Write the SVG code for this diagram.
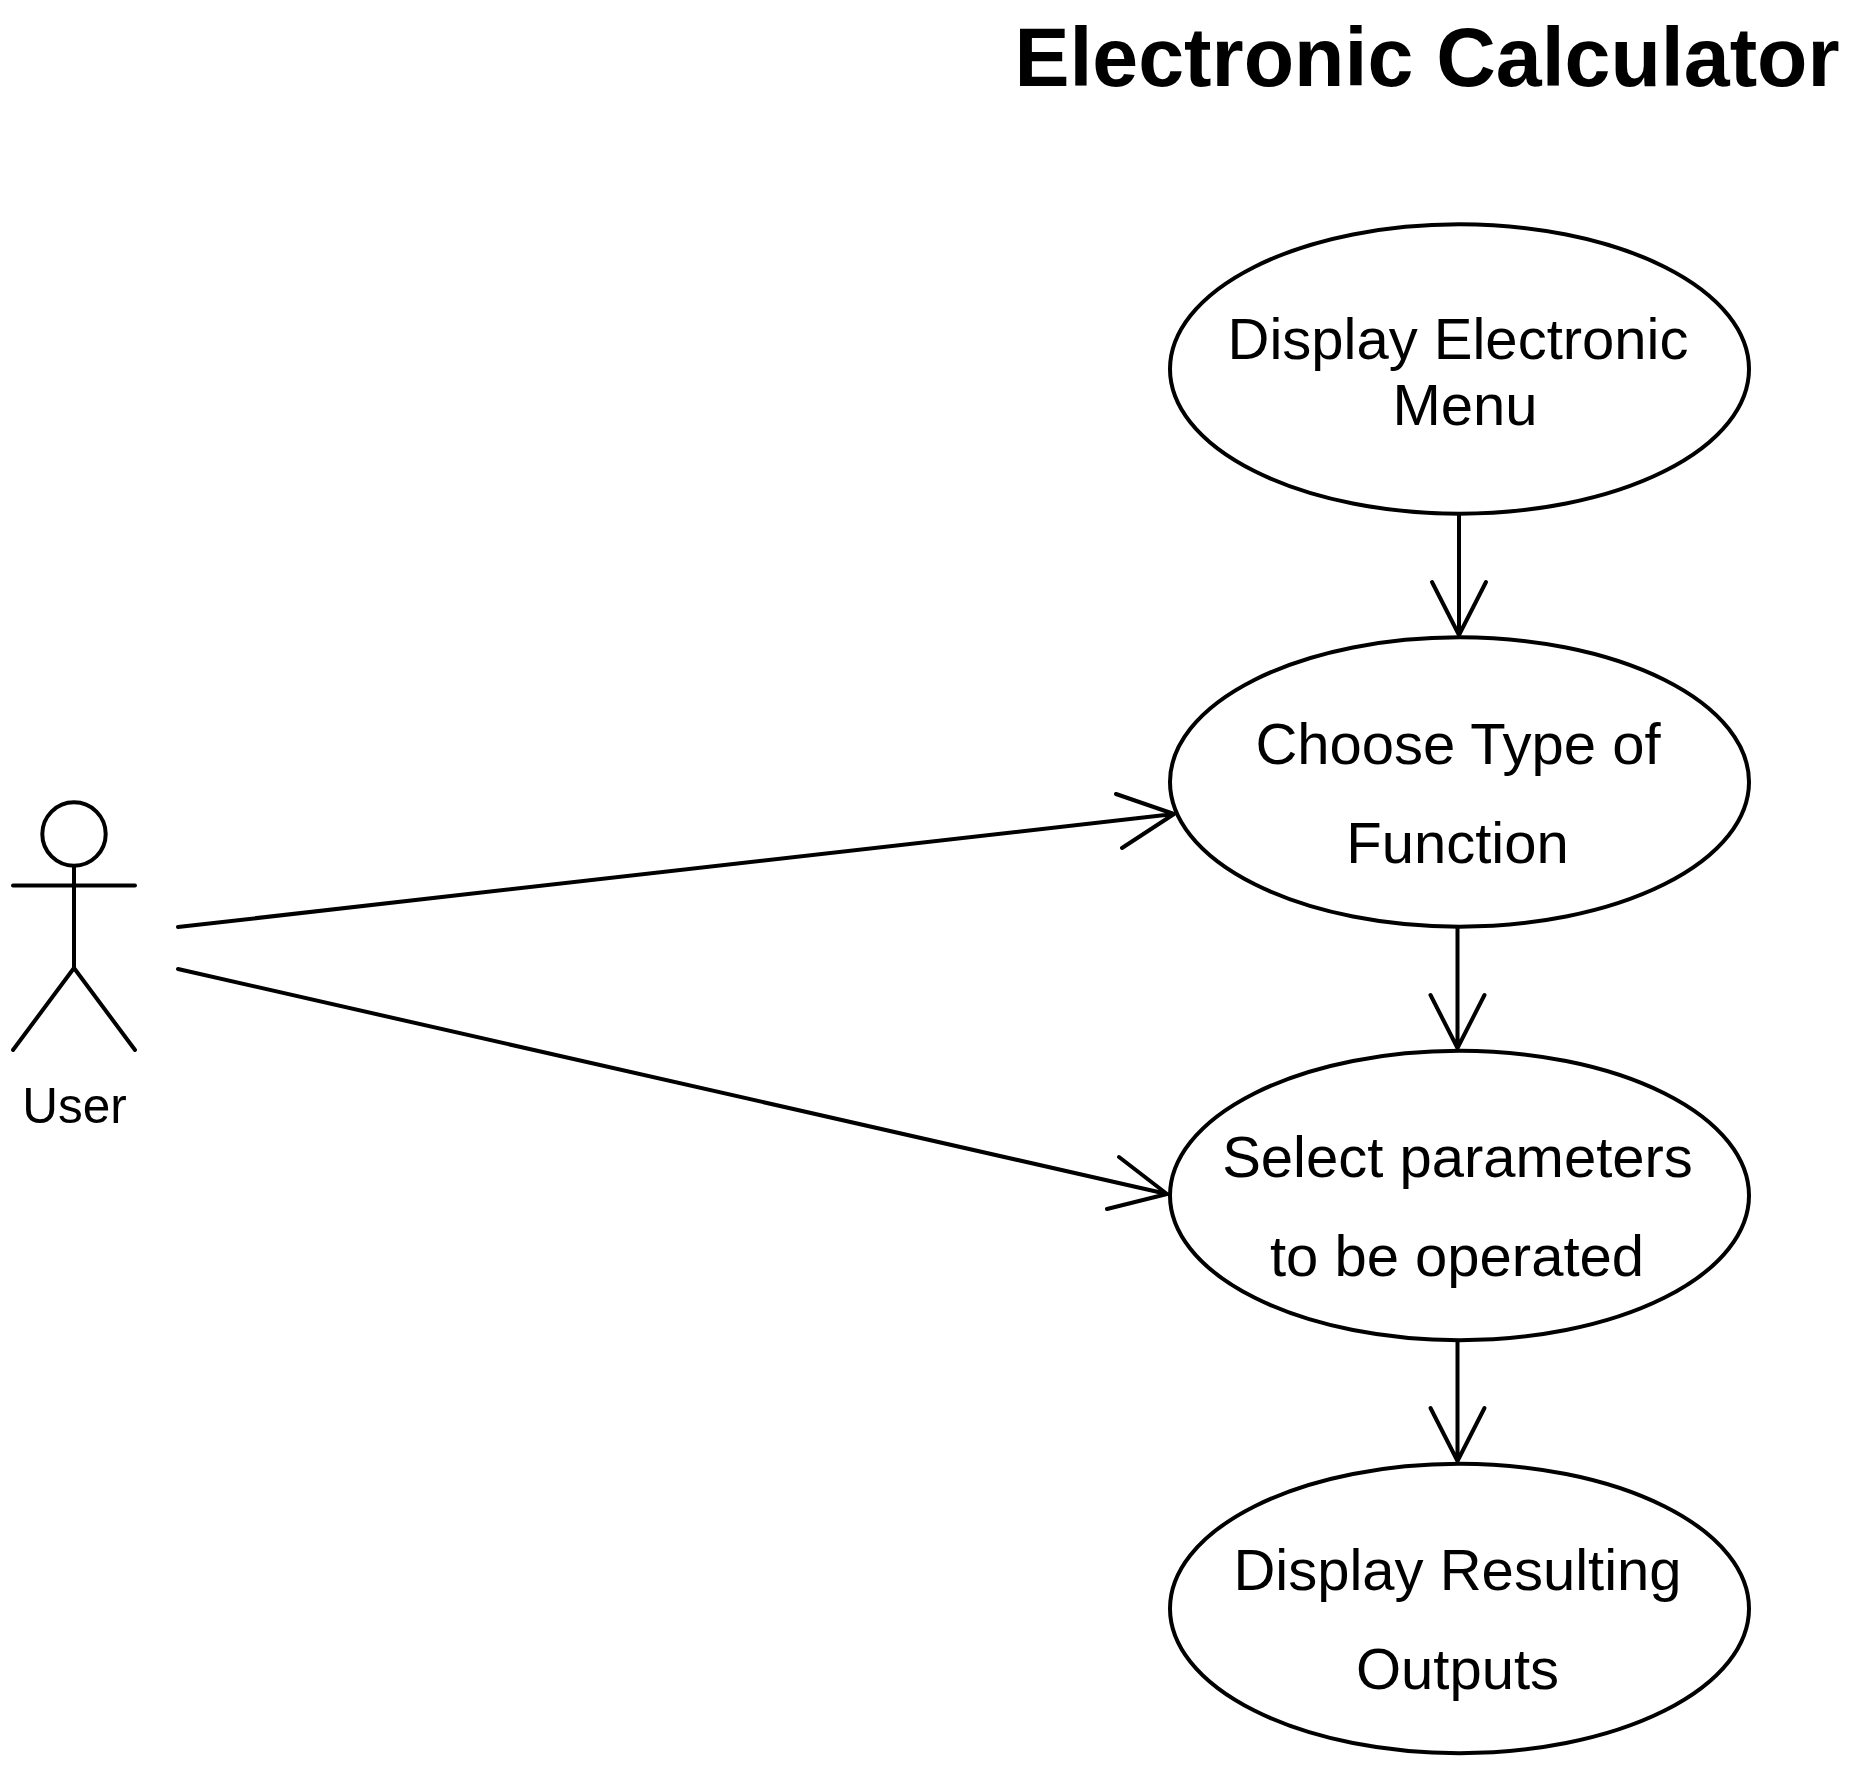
<svg xmlns="http://www.w3.org/2000/svg" width="1860" height="1768" viewBox="0 0 1860 1768">
<style>
.s{fill:none;stroke:#000;stroke-width:4;stroke-linecap:round;stroke-linejoin:round}
.e{fill:#fff;stroke:#000;stroke-width:4}
text{font-family:"Liberation Sans",Arial,sans-serif;fill:#000;text-anchor:middle}
.n{font-size:58px}
</style>
<rect width="1860" height="1768" fill="#fff"/>
<text id="title" x="1427" y="86" font-size="82.5" font-weight="bold">Electronic Calculator</text>
<g id="connectors">
<path class="s" d="M178 927L1174 814M1116 794L1174 814L1122 848"/>
<path class="s" d="M178 969L1167 1194M1119 1157L1167 1194L1107 1209"/>
<path class="s" d="M1459 514V635M1432 582L1459 635L1486 582"/>
<path class="s" d="M1457.500 927V1048M1430.500 995L1457.500 1048L1484.500 995"/>
<path class="s" d="M1457.500 1341V1461M1430.500 1408L1457.500 1461L1484.500 1408"/>
</g>
<g id="actor">
<circle class="s" cx="74" cy="834" r="31.7"/>
<path class="s" d="M74 866V968M13 885.500H135M13 1050L74 968L135 1050"/>
<text x="74.500" y="1123" font-size="49.5">User</text>
</g>
<g id="node1">
<ellipse class="e" cx="1459.500" cy="369" rx="289.500" ry="144.700"/>
<text class="n" x="1458" y="358.500">Display Electronic</text>
<text class="n" x="1465" y="424.500">Menu</text>
</g>
<g id="node2">
<ellipse class="e" cx="1459.500" cy="782" rx="289.500" ry="144.700"/>
<text class="n" x="1458" y="764">Choose Type of</text>
<text class="n" x="1457.500" y="863">Function</text>
</g>
<g id="node3">
<ellipse class="e" cx="1459.500" cy="1195.500" rx="289.500" ry="144.700"/>
<text class="n" x="1457.500" y="1177">Select parameters</text>
<text class="n" x="1457" y="1276">to be operated</text>
</g>
<g id="node4">
<ellipse class="e" cx="1459.500" cy="1608.500" rx="289.500" ry="144.700"/>
<text class="n" x="1457.500" y="1589.500">Display Resulting</text>
<text class="n" x="1457.500" y="1689">Outputs</text>
</g>
</svg>
